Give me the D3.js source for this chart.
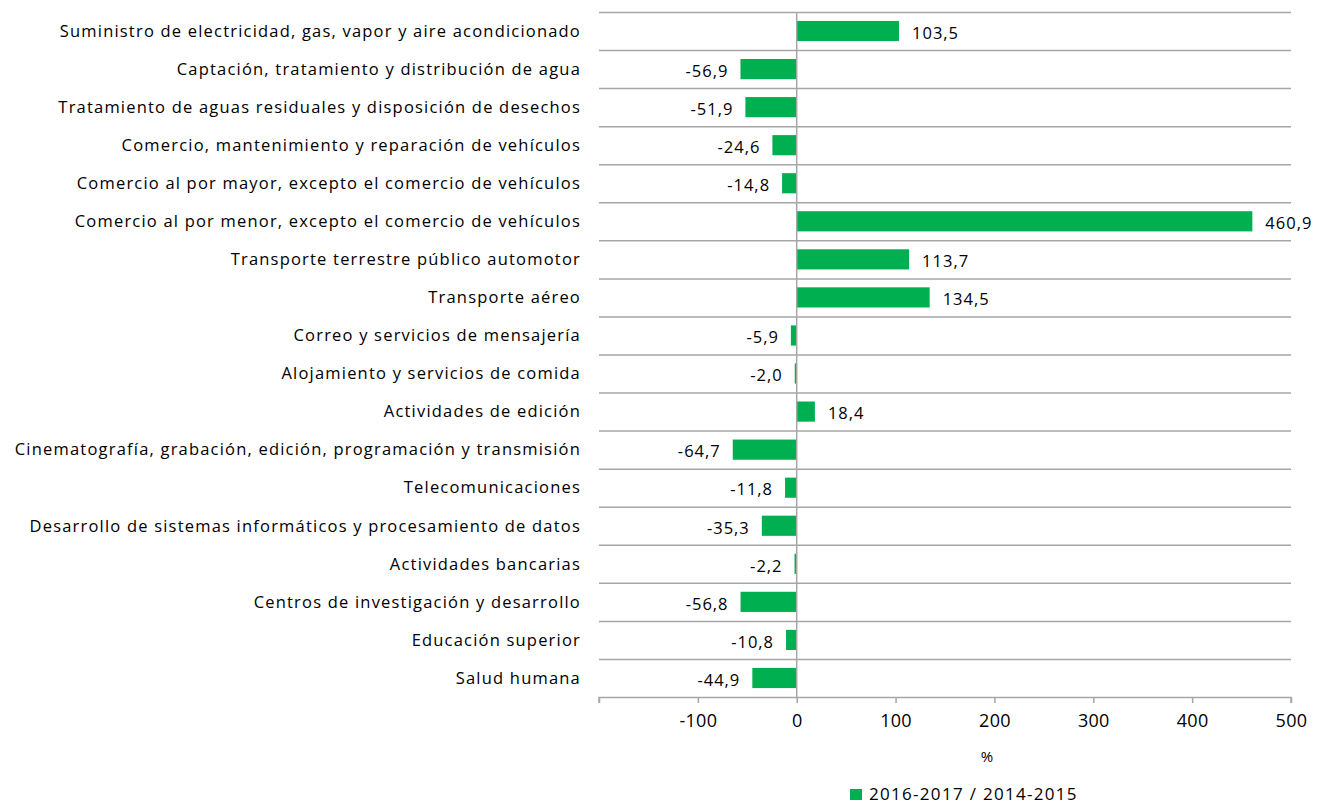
<!DOCTYPE html>
<html><head><meta charset="utf-8">
<script src="https://cdn.jsdelivr.net/npm/d3@7"></script>
<style>body{margin:0;background:#fff}svg{display:block}text{font-family:"Open Sans",Lato,sans-serif;fill:#000}</style>
</head><body>
<svg id="c" width="1321" height="804"></svg>
<script>
const categories = [
 "Suministro de electricidad, gas, vapor y aire acondicionado",
 "Captación, tratamiento y distribución de agua",
 "Tratamiento de aguas residuales y disposición de desechos",
 "Comercio, mantenimiento y reparación de vehículos",
 "Comercio al por mayor, excepto el comercio de vehículos",
 "Comercio al por menor, excepto el comercio de vehículos",
 "Transporte terrestre público automotor",
 "Transporte aéreo",
 "Correo y servicios de mensajería",
 "Alojamiento y servicios de comida",
 "Actividades de edición",
 "Cinematografía, grabación, edición, programación y transmisión",
 "Telecomunicaciones",
 "Desarrollo de sistemas informáticos y procesamiento de datos",
 "Actividades bancarias",
 "Centros de investigación y desarrollo",
 "Educación superior",
 "Salud humana"
];
const values = [103.5,-56.9,-51.9,-24.6,-14.8,460.9,113.7,134.5,-5.9,-2.0,18.4,-64.7,-11.8,-35.3,-2.2,-56.8,-10.8,-44.9];
const xTicks = [-200,-100,0,100,200,300,400,500];
const seriesName = "2016-2017 / 2014-2015";
const axisTitle = "%";

const svg = d3.select("#c");
const L=599, R=1291, T=12, B=697;
const x = d3.scaleLinear().domain([-200,500]).range([L,R]);
const y = d3.scaleBand().domain(categories).range([T,B]).paddingInner(0.47).paddingOuter(0.235);
const band = (B-T)/categories.length;
const grid="#a6a6a6";
const fmt = v => d3.format(".1f")(v).replace(".",",").replace("−","-");

svg.append("g").selectAll("line").data(d3.range(categories.length)).join("line")
 .attr("x1",L).attr("x2",R).attr("y1",i=>T+i*band+0.5).attr("y2",i=>T+i*band+0.5)
 .attr("stroke",grid).attr("stroke-width",1.5);

svg.append("g").selectAll("rect").data(values).join("rect")
 .attr("x",d=>x(Math.min(0,d))).attr("width",d=>Math.abs(x(d)-x(0)))
 .attr("y",(d,i)=>y(categories[i])).attr("height",y.bandwidth())
 .attr("fill","#00b050");

svg.append("line").attr("x1",x(0)).attr("x2",x(0)).attr("y1",T).attr("y2",B)
 .attr("stroke",grid).attr("stroke-width",1.5);

const xa = svg.append("g").attr("transform",`translate(0,${B})`)
 .call(d3.axisBottom(x).tickValues(xTicks).tickSize(6).tickFormat(d=>d===-200?"":d3.format("d")(d).replace("−","-")));
xa.select(".domain").attr("stroke",grid).attr("stroke-width",1.5).attr("d",`M${L},6V0.5H${R}V6`);
xa.selectAll(".tick line").attr("stroke",grid).attr("stroke-width",1.5);
xa.selectAll(".tick text").attr("y",17).attr("font-size",18).attr("font-family","'Open Sans',Lato,sans-serif").attr("fill","#000").attr("letter-spacing","0.3px");

svg.append("g").selectAll("text").data(categories).join("text")
 .attr("x",581).attr("y",d=>y(d)+y.bandwidth()/2).attr("dy","0.35em")
 .attr("text-anchor","end").attr("font-size",16.5).attr("letter-spacing","1.2px").text(d=>d);

svg.append("g").selectAll("text").data(values).join("text")
 .attr("x",d=>d>=0?x(d)+13:x(d)-12).attr("y",(d,i)=>y(categories[i])+y.bandwidth()/2+2).attr("dy","0.35em")
 .attr("text-anchor",d=>d>=0?"start":"end").attr("font-size",16.5).attr("letter-spacing","1px").text(d=>fmt(d));

svg.append("text").attr("x",987).attr("y",757).attr("dy","0.35em").attr("text-anchor","middle").attr("font-size",15).text(axisTitle);

svg.append("rect").attr("x",850).attr("y",789).attr("width",12).attr("height",11).attr("fill","#00b050");
svg.append("text").attr("x",869).attr("y",800).attr("font-size",17).attr("letter-spacing","1.3px").text(seriesName);
</script>
</body></html>
